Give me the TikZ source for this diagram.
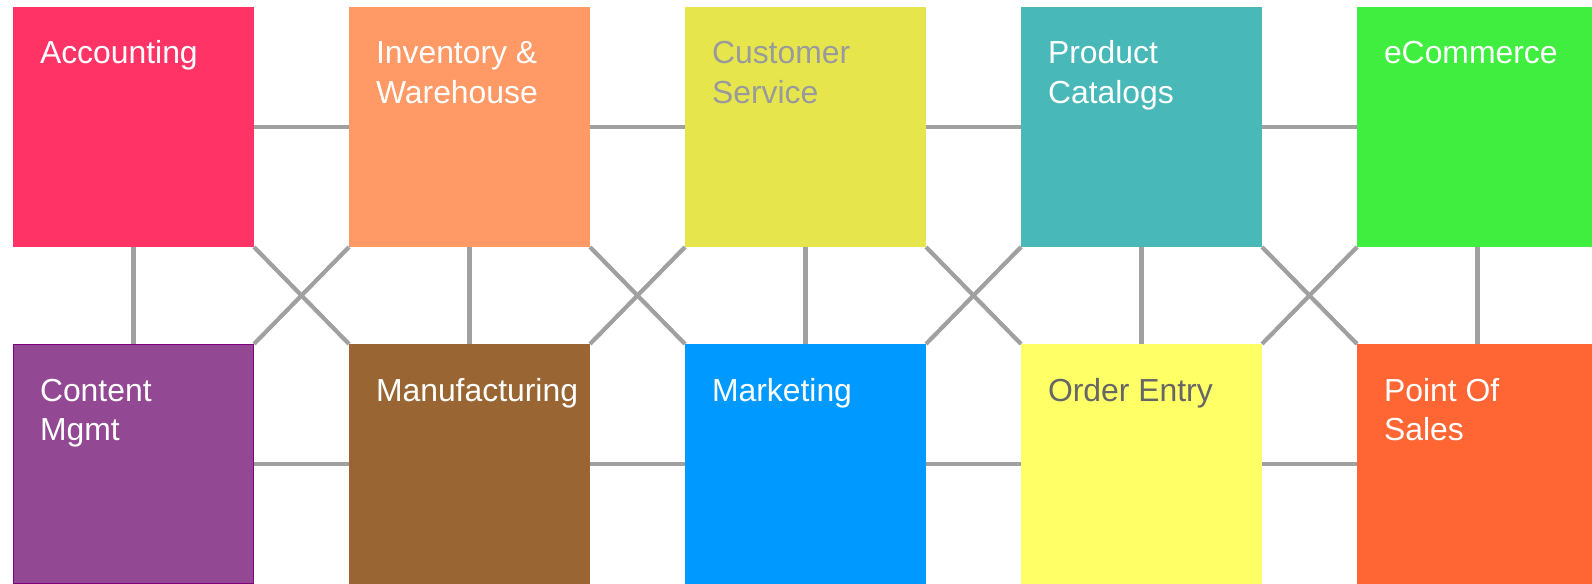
\documentclass[tikz,border=0pt]{standalone}
\usepackage{fontspec}
\setmainfont{Liberation Sans}
\definecolor{cAcc}{HTML}{FF3366}
\definecolor{cInv}{HTML}{FF9966}
\definecolor{cCus}{HTML}{E6E64C}
\definecolor{cPro}{HTML}{48B8B8}
\definecolor{cEco}{HTML}{3FEE3F}
\definecolor{cCon}{HTML}{934893}
\definecolor{cConB}{HTML}{800080}
\definecolor{cMan}{HTML}{996633}
\definecolor{cMar}{HTML}{0099FF}
\definecolor{cOrd}{HTML}{FFFF66}
\definecolor{cPos}{HTML}{FF6633}
\definecolor{linkgray}{HTML}{A0A0A0}
\definecolor{txtgray}{HTML}{9A9A9E}
\definecolor{txtdark}{HTML}{666666}
\newcommand{\twoln}[2]{\vtop{\baselineskip=39.5bp\hbox{#1}\hbox{#2}}}
\tikzset{
  box/.style={rectangle, draw=none, inner sep=0pt, outer sep=0pt, minimum width=241bp, minimum height=240bp, anchor=north west},
  boxtext/.style={anchor=base west, inner sep=0pt, outer sep=0pt, font=\fontsize{32}{39.5}\selectfont, text=white},
  link/.style={draw=linkgray, line width=4.2bp}
}
\begin{document}
\begin{tikzpicture}[x=1bp,y=-1bp]
\useasboundingbox (0,0) rectangle (1592,584);
\clip (0,0) rectangle (1592,584);
% boxes
\node[box, fill=cAcc] (acc) at (13,7) {};
\node[box, fill=cInv] (inv) at (349,7) {};
\node[box, fill=cCus] (cus) at (685,7) {};
\node[box, fill=cPro] (pro) at (1021,7) {};
\node[box, fill=cEco] (eco) at (1357,7) {};
\node[box, fill=cCon] (con) at (13,344) {};
\node[box, fill=cMan] (man) at (349,344) {};
\node[box, fill=cMar] (mar) at (685,344) {};
\node[box, fill=cOrd] (ord) at (1021,344) {};
\node[box, fill=cPos] (pos) at (1357,344) {};
\draw[cConB, line width=1bp] ([shift={(0.5,0.5)}]con.north west) rectangle ([shift={(-0.5,-0.5)}]con.south east);
% connectors
\foreach \a/\b in {acc/inv, inv/cus, cus/pro, pro/eco, con/man, man/mar, mar/ord, ord/pos}
  \draw[link] (\a.east) -- (\b.west);
\foreach \a/\b in {acc/con, inv/man, cus/mar, pro/ord, eco/pos}
  \draw[link] (\a.south) -- (\b.north);
\foreach \a/\b/\c/\d in {acc/man/con/inv, inv/mar/man/cus, cus/ord/mar/pro, pro/pos/ord/eco}{
  \draw[link] (\a.south east) -- (\b.north west);
  \draw[link] (\c.north east) -- (\d.south west);
}
% texts
\node[boxtext] (tacc) at ([shift={(27,57)}]acc.north west) {Accounting};
\node[boxtext] (tinv) at ([shift={(27,57)}]inv.north west) {\twoln{Inventory \&}{Warehouse}};
\node[boxtext, text=txtgray] (tcus) at ([shift={(27,57)}]cus.north west) {\twoln{Customer}{Service}};
\node[boxtext] (tpro) at ([shift={(27,57)}]pro.north west) {\twoln{Product}{Catalogs}};
\node[boxtext] (teco) at ([shift={(27,57)}]eco.north west) {eCommerce};
\node[boxtext] (tcon) at ([shift={(27,57)}]con.north west) {\twoln{Content}{Mgmt}};
\node[boxtext] (tman) at ([shift={(27,57)}]man.north west) {Manufacturing};
\node[boxtext] (tmar) at ([shift={(27,57)}]mar.north west) {Marketing};
\node[boxtext, text=txtdark] (tord) at ([shift={(27,57)}]ord.north west) {Order Entry};
\node[boxtext] (tpos) at ([shift={(27,57)}]pos.north west) {\twoln{Point Of}{Sales}};
\end{tikzpicture}
\end{document}
